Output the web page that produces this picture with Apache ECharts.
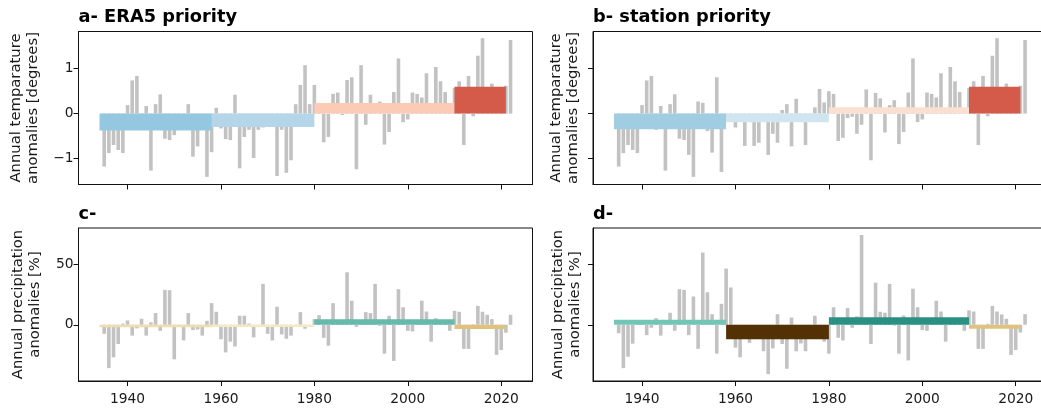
<!DOCTYPE html>
<html>
<head>
<meta charset="utf-8">
<style>html,body{margin:0;padding:0;background:#fff;overflow:hidden}#main{width:1041px;height:409px}</style>
<script src="https://cdn.jsdelivr.net/npm/echarts@6/dist/echarts.min.js"></script>
</head>
<body>
<div id="main"></div>
<script>
var years = [1935,1936,1937,1938,1939,1940,1941,1942,1943,1944,1945,1946,1947,1948,1949,1950,1951,1952,1953,1954,
  1955,1956,1957,1958,1959,1960,1961,1962,1963,1964,1965,1966,1967,1968,1969,1970,1971,1972,1973,1974,
  1975,1976,1977,1978,1979,1980,1981,1982,1983,1984,1985,1986,1987,1988,1989,1990,1991,1992,1993,1994,
  1995,1996,1997,1998,1999,2000,2001,2002,2003,2004,2005,2006,2007,2008,2009,2010,2011,2012,2013,2014,
  2015,2016,2017,2018,2019,2020,2021,2022];

// panel a
var tempEra5 = [-1.18,-.88,-.70,-.81,-.88,.19,.74,.84,-.3,.17,-1.27,.21,.43,-.56,-.59,-.48,-.2,.01,.21,-.96,
  -.73,-.1,-1.41,-.86,.13,-.33,-.57,-.59,.42,-1.22,-.52,-.36,-.99,-.36,-.31,-.1,-.15,-1.39,-.36,-1.32,
  -1.04,.21,.64,1.08,.21,.64,.1,-.64,-.52,.44,.47,-.03,.75,.81,-1.24,1.08,-.25,.42,.1,.27,
  -.69,-.41,.48,1.23,-.19,-.13,.47,.44,.36,.90,.1,1.04,.72,.48,.1,.57,.72,-.70,.84,-.06,
  1.29,1.68,.3,.67,.3,.3,.62,1.64];
// panel b
var tempStation = [-1.18,-.88,-.70,-.81,-.88,.19,.74,.84,-.36,.17,-1.27,.21,.43,-.56,-.59,-.92,-1.41,.27,.24,-.39,
  -.87,.81,-1.30,-.1,-.1,-.31,-.1,-.72,-.1,-.72,-.65,-.1,-.92,-.45,-.65,.08,.21,-.73,.33,-.1,
  -.70,-.1,.14,.55,.25,.50,.44,-.61,-.54,-.1,-.07,-.45,-.25,.54,-1.04,.46,.34,-.42,.19,.30,
  -.68,-.41,.47,1.23,-.19,-.13,.47,.44,.36,.90,.1,1.04,.72,.48,.1,.57,.72,-.70,.84,-.06,
  1.29,1.68,.3,.67,.3,.3,.62,1.64];
// panel c
var precipEra5 = [-7.5,-36,-27,-16,1,3.6,-9,-3,5,-9,2,9.7,-5,29,28.7,-28.7,-1,-13,9.7,-4.4,
  -3.9,-9,3.3,18,10.8,-12,-23,-14,-18,7.5,7.5,1,-10.5,-1,34,-7.5,-13,15,-8,-11.6,
  -9,-1,10.5,-3.3,-1,4.7,8,-10.8,-17.4,18,2,2,43.6,20,-1.7,2,10.5,9.7,34,-.8,
  -24,7.5,-30,29.6,14.6,-5,-5.5,2,20,11,-14,5.5,2,2,-5,11.6,10.8,-20,-20,.5,
  15.7,10.8,8.3,4.7,-25,-21,-6.6,8.3];
// panel d
var precipStation = [-7,-36,-26.5,-15.7,2,2,-8.6,-2.5,5.5,-9,1,10,-5,29.6,29,-8.6,23.5,-20,60,27,
  8.8,-24,17.4,46.7,31,-19,-27,-5,-15,-5,-5,-22,-41,-19.6,8.8,-16,-36.5,6,-22,-15.5,
  -22,-5,7.5,-10,-14,-24,14.6,-10.8,-13,14,-2.5,7,74.6,3,-16,35,10.8,10,34,-.6,
  -24,7.7,-29.6,30,14.6,-4.4,-5,3,20,11,-14,3,3,3,-5,12,11,-20,-20,.8,
  15.7,11,8.6,5,-25,-21,-6.4,8.8];

var periodStart = [1934,1958,1980,2010];
var periodEnd = [1958,1980,2010,2021];
var meansA = [-.378,-.30,.237,.60];
var meansB = [-.35,-.19,.14,.60];
var meansC = [-2,-1.8,4.7,-3.6];
var meansD = [4.1,-12,6.3,-3.3];

var coloursA = ['#94c7e0','#b5d6e8','#fccbb5','#d45b4a'];
var coloursB = ['#a1cde3','#d1e5f0','#fbe0d2','#d45b4a'];
var coloursC = ['#f0dcae','#f6e8c3','#66b9ab','#dfc27d'];
var coloursD = ['#73c6b6','#543005','#2a9082','#dfc27d'];

var xTicks = [1940,1960,1980,2000,2020];
var tempTicks = [-1,0,1];
var precipTicks = [0,50];

var titles = ['a- ERA5 priority','b- station priority','c-','d-'];
var tempName = 'Annual temparature\nanomalies [degrees]';
var precipName = 'Annual precipitation\nanomalies [%]';

var font = 'DejaVu Sans';
var ink = '#1a1a1a';
var panels = [
  {left:78.5, top:31.5, height:153, vals:tempEra5, means:meansA, cols:coloursA, min:-1.58, max:1.83, ticks:tempTicks, name:tempName, xl:false, yl:true, gap:37},
  {left:593, top:31.5, height:153, vals:tempStation, means:meansB, cols:coloursB, min:-1.58, max:1.83, ticks:tempTicks, name:tempName, xl:false, yl:false, gap:11},
  {left:78.5, top:228, height:153, vals:precipEra5, means:meansC, cols:coloursC, min:-46.7, max:80.4, ticks:precipTicks, name:precipName, xl:true, yl:true, gap:35},
  {left:593, top:228, height:153, vals:precipStation, means:meansD, cols:coloursD, min:-46.7, max:80.4, ticks:precipTicks, name:precipName, xl:true, yl:false, gap:9}
];

var grid = [], xAxis = [], yAxis = [], series = [], title = [];

panels.forEach(function(p, i) {
  grid.push({left:p.left, top:p.top, width:454, height:p.height, outerBoundsMode:'none', show:true, borderColor:'#111', borderWidth:1, backgroundColor:'transparent'});
  title.push({text:titles[i], left:p.left, top:p.top - 23, padding:0,
    textStyle:{fontFamily:font, fontSize:17.8, fontWeight:'bold', color:'#000'}});
  xAxis.push({
    type:'value', gridIndex:i, min:1929.5, max:2026.7, splitLine:{show:false},
    axisLine:{show:true, onZero:false, lineStyle:{color:'#111', width:1}},
    axisTick:{show:true, length:5, customValues:xTicks, lineStyle:{color:'#111', width:1}},
    axisLabel:{show:p.xl, customValues:xTicks, margin:11, hideOverlap:false, showMinLabel:true, showMaxLabel:true,
      color:ink, fontFamily:font, fontSize:13.8, formatter:function(v){return String(v);}}
  });
  yAxis.push({
    type:'value', gridIndex:i, min:p.min, max:p.max, splitLine:{show:false},
    name:p.name, nameLocation:'middle', nameRotate:90, nameGap:p.gap,
    nameTextStyle:{fontFamily:font, fontSize:14.8, color:ink, lineHeight:17, align:'center'},
    axisLine:{show:true, onZero:false, lineStyle:{color:'#111', width:1}},
    axisTick:{show:true, length:5, customValues:p.ticks, lineStyle:{color:'#111', width:1}},
    axisLabel:{show:p.yl, customValues:p.ticks, margin:5, padding:[4,0,0,0], color:ink, fontFamily:font, fontSize:13.8,
      formatter:function(v){return String(v).replace('-','\u2212');}}
  });
  series.push({
    type:'bar', xAxisIndex:i, yAxisIndex:i, barWidth:3.6, z:2, silent:true,
    itemStyle:{color:'#c2c2c2'},
    data:years.map(function(y, k){return [y, p.vals[k]];})
  });
  series.push({
    type:'custom', xAxisIndex:i, yAxisIndex:i, z:3, silent:true,
    encode:{x:[0,1], y:2},
    data:p.means.map(function(m, k){return [periodStart[k], periodEnd[k], m, k];}),
    renderItem:function(params, api) {
      var a = api.coord([api.value(0), 0]);
      var b = api.coord([api.value(1), api.value(2)]);
      return {type:'rect',
        shape:{x:a[0], y:Math.min(a[1], b[1]), width:b[0]-a[0], height:Math.abs(b[1]-a[1])},
        style:{fill:p.cols[api.value(3)]}};
    }
  });
});

var myChart = echarts.init(document.getElementById('main'), null, {renderer:'canvas'});
myChart.setOption({animation:false, backgroundColor:'#fff', title:title, grid:grid, xAxis:xAxis, yAxis:yAxis, series:series, tooltip:{show:false}});
</script>
</body>
</html>
